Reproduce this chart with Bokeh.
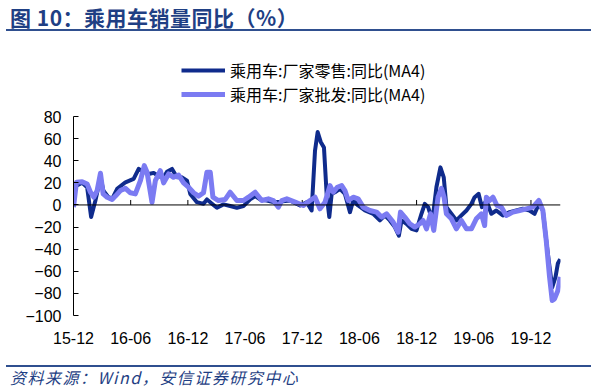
from bokeh.plotting import figure
from bokeh.models import (ColumnDataSource, FixedTicker, Span, Legend, LegendItem, Div)
from bokeh.layouts import column
from bokeh.embed import file_html
from bokeh.resources import INLINE

# ---- data (months since 2015-12) ----
retail_x = [0.00, 0.91, 1.43, 1.85, 2.30, 2.83, 3.14, 3.66, 4.08, 4.58, 5.45, 6.31, 6.84, 7.36,
            7.88, 8.41, 8.93, 9.46, 9.81, 10.34, 10.86, 11.38, 11.91, 12.25, 12.95, 13.64,
            14.00, 14.69, 15.05, 15.74, 16.44, 17.14, 17.83, 18.53, 19.06, 19.58, 20.28,
            20.97, 21.68, 22.72, 23.77, 24.47, 24.99, 25.34, 25.62, 25.94, 26.28, 26.56,
            26.84, 27.09, 27.43, 27.96, 28.48, 29.01, 29.35, 29.87, 30.58, 31.45, 32.15,
            32.67, 33.19, 33.72, 34.14, 34.42, 34.94, 35.47, 35.99, 36.51, 36.86, 37.21,
            37.66, 38.08, 38.50, 38.85, 39.13, 39.65, 40.18, 40.70, 41.23, 41.75, 42.09,
            42.51, 42.86, 43.32, 43.84, 44.36, 45.05, 45.76, 46.46, 47.15, 47.85, 48.38,
            48.83, 49.25, 49.60, 49.95, 50.23, 50.58, 50.82, 51.07]
retail_y = [16, 20, 16, -11, 4, 25, 13, 7, 6, 14.5, 20.5, 23.6, 32.6, 30,
            28, 29, 26, 25, 30, 32.6, 25, 25, 22, 10, 2.5, 1,
            5, 0, -2.6, 0.5, -1, -2.6, -1, 5, 8, 5, 4,
            2.5, 3, 4, -0.5, 2.5, -5, 49, 66, 57, 52, 10,
            -11, 10, 11.5, 14.5, 10, -6.5, 4, -0.5, -5, -8, -14,
            -9.5, -14, -20, -27.7, -14, -17, -21.6, -23, -8, 1, -2,
            -14, 16, 34, 25, -2, -8, -14, -9.5, -5, 1, 7,
            10, -2, 4, -8, -5, -9.5, -6.5, -5, -3.5, -5, -8,
            1, -5, -32, -56, -74.5, -65, -53, -49]

whole_x = [0.00, 0.31, 0.91, 1.43, 1.78, 2.13, 2.48, 2.83, 3.11, 3.53, 4.05, 4.40, 4.92, 5.45,
           5.97, 6.49, 7.02, 7.43, 7.72, 8.24, 8.59, 9.11, 9.46, 9.98, 10.50, 11.03, 11.55,
           12.07, 12.60, 13.12, 13.64, 14.00, 14.35, 14.63, 15.21, 15.92, 16.44, 17.14,
           17.83, 18.36, 19.06, 19.76, 20.45, 20.97, 21.50, 21.85, 22.38, 23.25, 24.12,
           24.82, 25.34, 25.86, 26.39, 26.91, 27.26, 27.68, 28.14, 28.48, 28.83, 29.35,
           29.87, 30.40, 31.10, 31.80, 32.32, 32.85, 33.54, 34.06, 34.31, 34.76, 35.29,
           35.81, 36.34, 36.68, 37.04, 37.46, 37.80, 38.25, 38.61, 38.88, 39.13, 39.65,
           40.18, 40.70, 41.23, 41.75, 42.27, 42.80, 43.14, 43.32, 43.66, 44.01, 44.43,
           44.89, 45.41, 46.10, 46.81, 47.51, 48.20, 48.83, 49.25, 49.60, 49.95, 50.23,
           50.47, 50.82, 51.07]
whole_y = [-2, 20.5, 21, 19, 11.5, 7, 13, 28.7, 10, 7, 5, 8, 13, 15,
           11, 10, 22, 35.6, 29.6, 2.4, 22, 31, 20, 28, 25, 27, 20,
           16, 11, 8, 11, 29.6, 29.6, 7, 4, 5, 11.5, 4,
           4, 7, 11.5, 4, 5.5, 4, -2, 4, 5.5, 2.5, -0.5,
           4, 7, -3.5, 2.5, 17.5, 11.5, 16, 17.5, 13, 4, 7,
           5.5, -2, -5, -6.5, -11, -8, -15.5, -24.7, -6.5, -11, -17,
           -20, -17, -14, -21.6, -8, -23, 7, 15, 7, -8, -12.5,
           -21.6, -14, -21.6, -21.6, -12.5, -8, -18.6, 7, 4, 7, -0.5,
           -2, -9.5, -6.5, -5, -3.5, -2, 4, -5, -32, -65, -86.5,
           -85, -77.5, -65]

tick_months = [0, 6, 12, 18, 24, 30, 36, 42, 48]
tick_labels = ["15-12", "16-06", "16-12", "17-06", "17-12", "18-06", "18-12", "19-06", "19-12"]
y_ticks = [80, 60, 40, 20, 0, -20, -40, -60, -80, -100]

series_names = ["乘用车:厂家零售:同比(MA4)", "乘用车:厂家批发:同比(MA4)"]
title_text = "图 10：乘用车销量同比（%）"
source_text = "资料来源：Wind，安信证券研究中心"

DARK = "#0F2B8C"
LIGHT = "#7B7BF2"
BLUE_TXT = "#1F3F84"
RULE = "#2F4F8F"
AXIS_FONT = "Liberation Sans"
CJK_FONT = "Noto Sans CJK SC"

TITLE_H, FOOT_H = 34, 30
W = 600
FIG_H = 390 - TITLE_H - FOOT_H        # figure height
Y_LO, Y_HI = y_ticks[-1], y_ticks[0]  # data extent of the value axis
L, FW = 73, 487                        # frame left / width
DATA_TOP, DATA_H = 116, 199            # pixel top and height of the -100..80 band
EXTRA = 66                             # room above the band for the legend
T = DATA_TOP - EXTRA - TITLE_H
FH = DATA_H + EXTRA
R = W - L - FW
B = FIG_H - T - FH
y_top = Y_HI + EXTRA * (Y_HI - Y_LO) / DATA_H

title_div = Div(
    text=(f'<div style="position:relative;width:585px;height:31px;margin-left:6px;'
          f'border-bottom:2px solid {RULE};">'
          f'<span style="position:absolute;left:4px;top:3px;line-height:28px;'
          f'font-family:\'{CJK_FONT}\';font-size:21px;font-weight:bold;color:{BLUE_TXT};'
          f'letter-spacing:0.5px;white-space:nowrap;">{title_text}</span></div>'),
    width=W, height=TITLE_H, margin=0)

foot_div = Div(
    text=(f'<div style="width:585px;height:28px;margin-left:6px;margin-top:5px;'
          f'border-top:2px solid {RULE};padding-left:4px;line-height:20px;'
          f'font-family:\'{CJK_FONT}\';font-size:16px;font-style:italic;color:{BLUE_TXT};'
          f'letter-spacing:1.5px;white-space:nowrap;box-sizing:border-box;">{source_text}</div>'),
    width=W, height=FOOT_H, margin=0)

p = figure(width=W, height=FIG_H, output_backend="svg", toolbar_location=None,
           x_range=(0, 51.1), y_range=(Y_LO, y_top),
           min_border_left=L, min_border_right=R, min_border_top=T, min_border_bottom=B,
           margin=0)
p.outline_line_color = None
p.xgrid.visible = False
p.ygrid.visible = False
p.background_fill_color = "white"
p.border_fill_color = "white"

# y axis
p.yaxis.ticker = FixedTicker(ticks=y_ticks)
p.yaxis.bounds = (Y_LO, Y_HI)
p.yaxis.major_tick_in = 5
p.yaxis.major_tick_out = 0
p.yaxis.minor_tick_line_color = None
p.yaxis.axis_line_color = "black"
p.yaxis.major_label_text_font = AXIS_FONT
p.yaxis.major_label_text_font_size = "16px"
p.yaxis.major_label_text_color = "black"
p.yaxis.major_label_standoff = 12

# x axis: labels only at the bottom
p.xaxis.ticker = FixedTicker(ticks=tick_months)
p.xaxis.major_label_overrides = {m: lab for m, lab in zip(tick_months, tick_labels)}
p.xaxis.axis_line_color = None
p.xaxis.major_tick_line_color = None
p.xaxis.minor_tick_line_color = None
p.xaxis.major_label_text_font = AXIS_FONT
p.xaxis.major_label_text_font_size = "16px"
p.xaxis.major_label_text_color = "black"
p.xaxis.major_label_standoff = 10

# zero line with upward ticks
p.add_layout(Span(location=0, dimension="width", line_color="black", line_width=1))
p.segment(x0=tick_months, y0=[0] * len(tick_months), x1=tick_months,
          y1=[4.5] * len(tick_months), line_color="black", line_width=1)

src_r = ColumnDataSource(dict(x=retail_x, y=retail_y))
src_w = ColumnDataSource(dict(x=whole_x, y=whole_y))
r1 = p.line("x", "y", source=src_r, line_color=DARK, line_width=4, line_join="round")
r2 = p.line("x", "y", source=src_w, line_color=LIGHT, line_width=5, line_join="round")

legend = Legend(items=[LegendItem(label=series_names[0], renderers=[r1]),
                       LegendItem(label=series_names[1], renderers=[r2])],
                location=(108, DATA_H + 10), orientation="vertical",
                padding=0, margin=0, spacing=0, glyph_width=44, glyph_height=22,
                label_height=22, label_standoff=5,
                label_text_font=CJK_FONT, label_text_font_size="16px",
                label_text_color="black",
                border_line_color=None, background_fill_alpha=0)
p.add_layout(legend)

layout = column(title_div, p, foot_div, spacing=0, margin=0)
open("out.html", "w").write(file_html(layout, INLINE))
